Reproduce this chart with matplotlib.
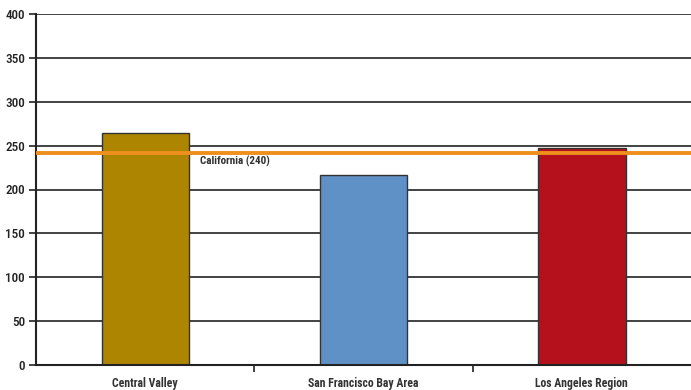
import numpy as np
import matplotlib.pyplot as plt

regions = ['Central Valley', 'San Francisco Bay Area', 'Los Angeles Region']
values = [264, 217, 247]
colors = ['#AD8500', '#5F90C6', '#B4111C']
state_value = 242
state_label = 'California (240)'

fam = ['Roboto Condensed', 'DejaVu Sans']

fig = plt.figure(figsize=(6.91, 3.90), dpi=100)
ax = fig.add_axes([36 / 691, 25 / 390, 655 / 691, 351 / 390])

x = np.arange(len(regions))
ax.set_axisbelow(True)
ax.yaxis.grid(True, color='#222222', linewidth=1.2)
ax.bar(x, values, width=0.4, color=colors, edgecolor='#333333', linewidth=1.0, zorder=2)
ax.axhline(state_value, color='#EE8F1E', linewidth=2.8, zorder=3)
ax.text(0.25, state_value - 9.5, state_label, fontsize=8, fontweight='bold',
        family=fam, color='#333333', va='center', ha='left', zorder=4)

ax.set_xlim(-0.5, 2.5)
ax.set_ylim(0, 400)
ax.set_yticks(range(0, 401, 50))
ax.set_xticks(x)
ax.set_xticklabels(regions, fontsize=8.5, fontweight='bold', family=fam, color='#333333')
ax.set_xticks([0.5, 1.5], minor=True)
ax.tick_params(axis='x', which='major', length=0, pad=9)
ax.tick_params(axis='x', which='minor', length=5, width=1.2, color='#222222')
ax.tick_params(axis='y', length=5, width=1.2, color='#222222', labelsize=9.5,
               labelcolor='#222222', pad=3)
for lab in ax.get_yticklabels():
    lab.set_family(fam)
    lab.set_fontweight('medium')

for s in ['top', 'right']:
    ax.spines[s].set_visible(False)
for s in ['left', 'bottom']:
    ax.spines[s].set_color('#222222')
    ax.spines[s].set_linewidth(1.5)

fig.savefig('out.png', dpi=100)
